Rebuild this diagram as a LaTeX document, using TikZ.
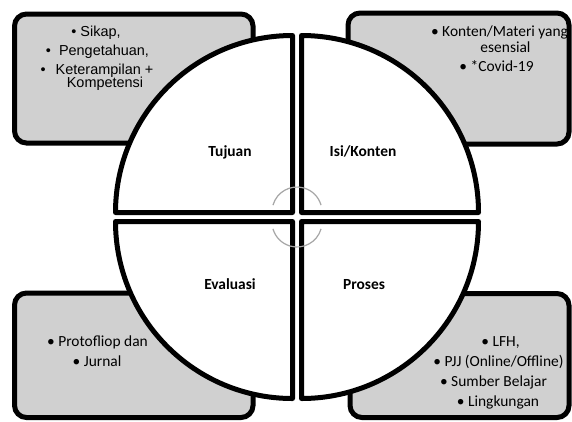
\documentclass[tikz,border=0pt]{standalone}
\usepackage{fontspec}
\setmainfont{Carlito}
\newfontfamily\arialf{Liberation Sans}
\definecolor{boxgray}{RGB}{208,208,208}
\definecolor{arcgray}{RGB}{166,166,166}
\tikzset{
  box/.style={draw=black, line width=5bp, fill=boxgray, rounded corners=12bp},
  wedge/.style={draw=black, line width=5bp, fill=white, line join=round},
  txt/.style={anchor=base, inner sep=0pt, font=\fontsize{15.5}{18}\selectfont},
  atxt/.style={anchor=base, inner sep=0pt, font=\arialf\fontsize{14.5}{17}\selectfont},
  lbl/.style={anchor=base, inner sep=0pt, font=\bfseries\fontsize{15.5}{18}\selectfont},
  cyc/.style={draw=arcgray, line width=1.2bp}
}
\begin{document}
\begin{tikzpicture}[x=1bp,y=-1bp]
\useasboundingbox (0,0) rectangle (572,421);
% boxes
\draw[box] (14.5,14) rectangle (253,143);
\draw[box] (348,13) rectangle (569,144);
\draw[box] (14.5,293) rectangle (253,417.5);
\draw[box] (350,293.5) rectangle (569,417.5);
% wedges
\draw[wedge] (292.5,212.5) -- (115.5,212.5) arc[start angle=180,end angle=270,radius=177] -- cycle;
\draw[wedge] (301.5,212.5) -- (301.5,35.5) arc[start angle=270,end angle=360,radius=177] -- cycle;
\draw[wedge] (301.5,221.5) -- (478.5,221.5) arc[start angle=0,end angle=90,radius=177] -- cycle;
\draw[wedge] (292.5,221.5) -- (292.5,398.5) arc[start angle=90,end angle=180,radius=177] -- cycle;
% centre arcs
\draw[cyc] (297,212) ++(196:25) arc[start angle=196,end angle=344,radius=25];
\draw[cyc] (297,222) ++(16:25) arc[start angle=16,end angle=164,radius=25];
% labels
\node[lbl] (tujuan) at (230,156) {Tujuan};
\node[lbl] (isi) at (363,156) {Isi/Konten};
\node[lbl] (evaluasi) at (230,289) {Evaluasi};
\node[lbl] (proses) at (364,289) {Proses};
% top-left text
\node[atxt] (tl1) at (96,36) {• Sikap,};
\node[atxt] (tl2) at (97.5,55) {•\hspace{8bp}Pengetahuan,};
\node[atxt] (tl3) at (97,74) {•\hspace{10bp}Keterampilan +};
\node[atxt] (tl4) at (105,87) {Kompetensi};
% top-right text
\node[txt] (tr1) at (499.5,36) {• Konten/Materi yang};
\node[txt] (tr2) at (505.5,52.7) {esensial};
\node[txt] (tr3) at (496.5,71.7) {• *Covid-19};
% bottom-left text
\node[txt] (bl1) at (97.5,346) {• Protofliop dan};
\node[txt] (bl2) at (97,366) {• Jurnal};
% bottom-right text
\node[txt] (br1) at (500.5,346) {• LFH,};
\node[txt] (br2) at (498.5,366) {• PJJ (Online/Offline)};
\node[txt] (br3) at (493.5,386) {• Sumber Belajar};
\node[txt] (br4) at (498,406) {• Lingkungan};
\end{tikzpicture}
\end{document}
